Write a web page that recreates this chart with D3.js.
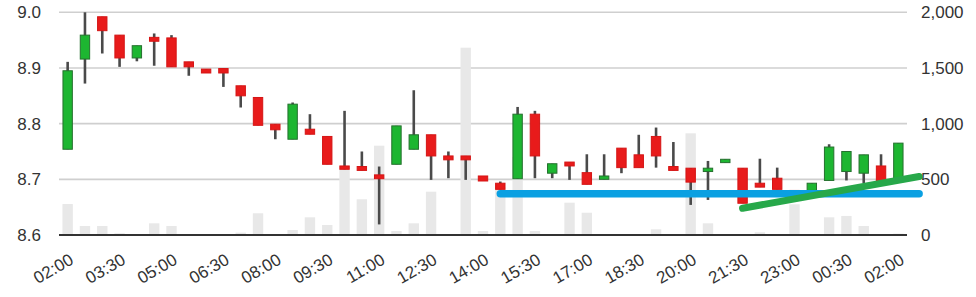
<!DOCTYPE html>
<html><head><meta charset="utf-8">
<script src="https://cdn.jsdelivr.net/npm/d3@7"></script>
<style>
html,body{margin:0;padding:0;background:#fff;}
svg{display:block;font-family:"Liberation Sans",Arial,sans-serif;}
</style></head>
<body><svg id="c" width="976" height="297"></svg>
<script>
const times = ["02:00","02:30","03:00","03:30","04:00","04:30","05:00","05:30","06:00","06:30","07:00","07:30","08:00","08:30","09:00","09:30","10:00","10:30","11:00","11:30","12:00","12:30","13:00","13:30","14:00","14:30","15:00","15:30","16:00","16:30","17:00","17:30","18:00","18:30","19:00","19:30","20:00","20:30","21:00","21:30","22:00","22:30","23:00","23:30","00:00","00:30","01:00","01:30","02:00"];
const open  = [8.754,8.916,8.992,8.959,8.918,8.955,8.954,8.911,8.898,8.899,8.868,8.847,8.799,8.772,8.790,8.777,8.724,8.723,8.708,8.727,8.754,8.780,8.742,8.742,8.706,8.693,8.701,8.817,8.711,8.731,8.712,8.700,8.756,8.744,8.777,8.723,8.720,8.714,8.730,8.720,8.693,8.702,8.680,8.680,8.698,8.714,8.711,8.724,8.701];
const close = [8.895,8.959,8.967,8.918,8.940,8.948,8.902,8.902,8.891,8.891,8.850,8.797,8.789,8.835,8.781,8.727,8.718,8.716,8.701,8.796,8.780,8.742,8.735,8.735,8.697,8.682,8.817,8.742,8.728,8.724,8.691,8.706,8.721,8.721,8.742,8.716,8.695,8.720,8.736,8.657,8.686,8.682,8.676,8.693,8.758,8.750,8.744,8.692,8.765];
const high  = [8.911,9.000,8.992,8.959,8.940,8.962,8.959,8.911,8.898,8.899,8.868,8.847,8.799,8.838,8.817,8.777,8.823,8.750,8.723,8.796,8.860,8.780,8.750,8.742,8.706,8.696,8.830,8.823,8.728,8.731,8.745,8.745,8.756,8.780,8.793,8.767,8.720,8.733,8.736,8.720,8.737,8.721,8.680,8.693,8.763,8.750,8.744,8.745,8.765];
const low   = [8.754,8.872,8.926,8.902,8.912,8.904,8.902,8.886,8.891,8.866,8.829,8.797,8.772,8.772,8.781,8.727,8.718,8.716,8.619,8.727,8.754,8.699,8.702,8.699,8.697,8.682,8.701,8.702,8.702,8.699,8.691,8.700,8.711,8.721,8.721,8.716,8.654,8.663,8.730,8.657,8.686,8.682,8.676,8.680,8.698,8.698,8.693,8.690,8.701];
const volume = [278,81,81,15,0,105,81,6,0,0,21,195,0,45,159,90,584,321,802,36,105,389,0,1682,36,430,700,36,0,290,200,0,0,0,51,0,913,105,0,6,24,0,276,0,159,171,81,0,12];
const priceTicks = [8.6,8.7,8.8,8.9,9.0];
const volumeTicks = [0,500,1000,1500,2000];
const labelEvery = 3;
const supportLine = [{i:25, v:8.674},{i:49.2, v:8.674}];
const trendLine = [{i:39, v:8.648},{i:49.2, v:8.705}];

const svg = d3.select("#c");
const L = 59, R = 907, T = 12.3, B = 235;
const x = d3.scaleBand().domain(d3.range(times.length)).range([L, R]).padding(0);
const bw = x.bandwidth();
const cx = i => L + (i + 0.5) * bw;
const y = d3.scaleLinear().domain([8.6, 9.0]).range([B, T]);
const yv = d3.scaleLinear().domain([0, 2000]).range([B, T]);

// gridlines
svg.append("g").selectAll("line").data(priceTicks.filter(d => d > 8.6)).join("line")
  .attr("x1", L).attr("x2", R).attr("y1", d => y(d)).attr("y2", d => y(d))
  .attr("stroke", "#cfcfcf").attr("stroke-width", 1.6);

// left axis
const la = svg.append("g").attr("transform", `translate(${L},0)`)
  .call(d3.axisLeft(y).tickValues(priceTicks).tickFormat(d3.format(".1f")).tickSize(0).tickPadding(18));
la.select(".domain").remove();
la.selectAll("text").attr("font-size", 17).attr("fill", "#333").attr("font-family", "Liberation Sans, Arial, sans-serif");

// right axis
const ra = svg.append("g").attr("transform", `translate(${R},0)`)
  .call(d3.axisRight(yv).tickValues(volumeTicks).tickFormat(d3.format(",")).tickSize(0).tickPadding(14));
ra.select(".domain").remove();
ra.selectAll("text").attr("font-size", 17).attr("fill", "#333").attr("font-family", "Liberation Sans, Arial, sans-serif");

// bottom axis labels
const ba = svg.append("g").attr("transform", `translate(0,${B})`)
  .call(d3.axisBottom(x).tickValues(d3.range(0, times.length, labelEvery)).tickFormat(i => times[i]).tickSize(0));
ba.select(".domain").remove();
ba.selectAll("text").attr("font-size", 17).attr("fill", "#333").attr("font-family", "Liberation Sans, Arial, sans-serif")
  .attr("text-anchor", "end").attr("dy", null).attr("y", 0)
  .attr("transform", "translate(7,28) rotate(-30)");

// volume bars
const vw = bw * 0.6;
svg.append("g").selectAll("rect").data(volume).join("rect")
  .attr("x", (d, i) => cx(i) - vw / 2).attr("width", vw)
  .attr("y", d => yv(d)).attr("height", d => B - yv(d))
  .attr("fill", "#e8e8e8");

// baseline
svg.append("line").attr("x1", L).attr("x2", R).attr("y1", B).attr("y2", B)
  .attr("stroke", "#333").attr("stroke-width", 2);

// wicks
const idx = d3.range(times.length);
svg.append("g").selectAll("line").data(idx).join("line")
  .attr("x1", i => cx(i)).attr("x2", i => cx(i))
  .attr("y1", i => y(high[i])).attr("y2", i => y(low[i]))
  .attr("stroke", "#4a4a4a").attr("stroke-width", 2.6);

// bodies
svg.append("g").selectAll("rect").data(idx).join("rect")
  .attr("x", i => cx(i) - vw / 2 + 0.5).attr("width", vw - 1)
  .attr("y", i => y(Math.max(open[i], close[i])))
  .attr("height", i => Math.max(2, Math.abs(y(open[i]) - y(close[i]))))
  .attr("fill", i => close[i] >= open[i] ? "#1db631" : "#e81b1b")
  .attr("stroke", i => close[i] >= open[i] ? "#25702e" : "#d51515")
  .attr("stroke-width", 1);

// support / trend lines
const ln = d3.line().x(d => cx(d.i)).y(d => y(d.v));
svg.append("path").datum(supportLine).attr("d", ln)
  .attr("fill", "none").attr("stroke", "#0aa0e2").attr("stroke-width", 7.5).attr("stroke-linecap", "round");
svg.append("path").datum(trendLine).attr("d", ln)
  .attr("fill", "none").attr("stroke", "#27a84a").attr("stroke-width", 7).attr("stroke-linecap", "round");
</script></body></html>
